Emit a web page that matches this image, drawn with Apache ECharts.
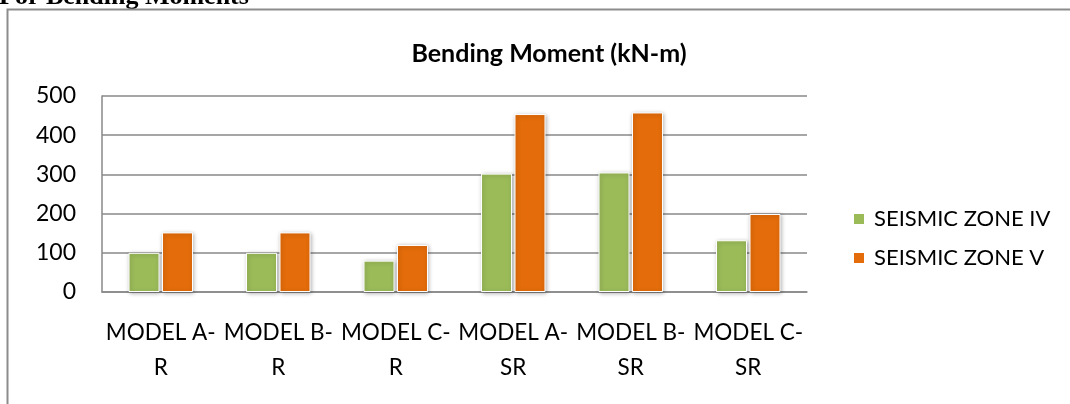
<!DOCTYPE html>
<html>
<head>
<meta charset="utf-8">
<script src="https://cdn.jsdelivr.net/npm/echarts@6/dist/echarts.min.js"></script>
<style>
html,body{margin:0;padding:0;background:#fff;}
#chart{width:1070px;height:404px;}
</style>
</head>
<body>
<div id="chart"></div>
<script>
const categories = ['MODEL A-\nR', 'MODEL B-\nR', 'MODEL C-\nR', 'MODEL A-\nSR', 'MODEL B-\nSR', 'MODEL C-\nSR'];
const seriesNames = ['SEISMIC ZONE IV', 'SEISMIC ZONE V'];
const zoneIV = [100, 100, 80, 302, 305, 132];
const zoneV = [152, 152, 120, 454, 458, 199];
const yTicks = [0, 100, 200, 300, 400, 500];

const FONT = 'Lato';
const chart = echarts.init(document.getElementById('chart'), null, {renderer: 'canvas'});
const barStyle = (c) => ({
  color: c,
  borderColor: '#ffffff',
  borderWidth: 1,
  shadowColor: 'rgba(0,0,0,0.3)',
  shadowBlur: 4,
  shadowOffsetX: 1,
  shadowOffsetY: 1
});
chart.setOption({
  animation: false,
  backgroundColor: '#ffffff',
  textStyle: {fontFamily: FONT},
  title: {
    text: 'Bending Moment (kN-m)',
    left: 544, top: 36, textAlign: 'center',
    textStyle: {fontFamily: FONT, fontWeight: 'bold', fontSize: 25, color: '#000'}
  },
  graphic: [
    {type: 'text', x: -1, y: 10,
     style: {text: 'For Bending Moments', font: 'bold 26px "Liberation Serif", "Times New Roman", serif',
             fill: '#000', verticalAlign: 'bottom', align: 'left'}},
    {type: 'rect', shape: {x: 7.5, y: 9.5, width: 1200, height: 600},
     style: {fill: 'none', stroke: '#8c8c8c', lineWidth: 2}, silent: true}
  ],
  legend: {
    orient: 'vertical', left: 847, top: 202,
    icon: 'rect', itemWidth: 12, itemHeight: 12, itemGap: 15,
    data: seriesNames,
    textStyle: {fontFamily: FONT, fontSize: 22, color: '#000', lineHeight: 24, padding: [0, 0, 0, 4]}
  },
  grid: {left: 102, right: 263, top: 96, bottom: 112, containLabel: false},
  xAxis: {
    type: 'category', data: categories,
    axisLine: {show: true, lineStyle: {color: '#888', width: 1.5}},
    axisTick: {show: false},
    axisLabel: {fontFamily: FONT, fontSize: 22.5, color: '#000', margin: 23, lineHeight: 35, interval: 0}
  },
  yAxis: {
    type: 'value', min: yTicks[0], max: yTicks[yTicks.length - 1], interval: 100,
    axisLine: {show: true, lineStyle: {color: '#888', width: 1.5}},
    axisTick: {show: false},
    splitLine: {show: true, lineStyle: {color: '#888', width: 1.5}},
    axisLabel: {fontFamily: FONT, fontSize: 23, color: '#000', margin: 26,
      formatter: (v) => yTicks.includes(v) ? String(v) : ''}
  },
  series: [
    {name: seriesNames[0], type: 'bar', data: zoneIV, barWidth: 31, barGap: '8%', itemStyle: barStyle('#9BBB59')},
    {name: seriesNames[1], type: 'bar', data: zoneV, barWidth: 31, barGap: '8%', itemStyle: barStyle('#E46C0A')}
  ]
});
</script>
</body>
</html>
